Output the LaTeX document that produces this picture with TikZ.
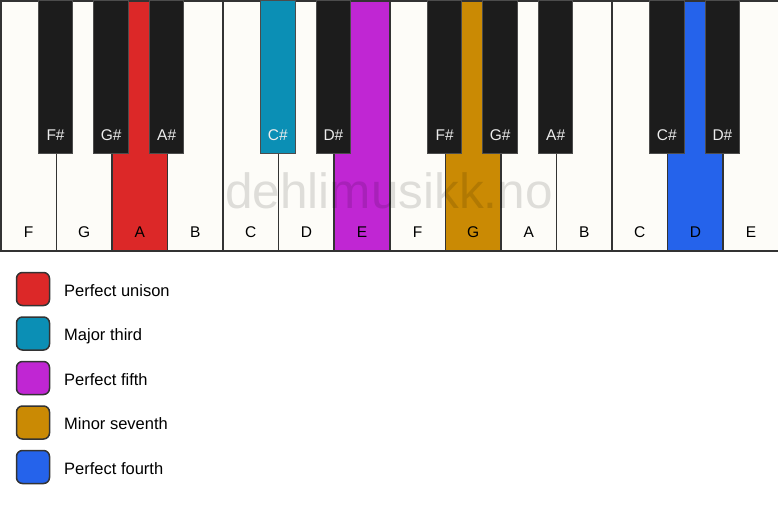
\documentclass[tikz,border=0pt]{standalone}
\usepackage{fontspec}
\setmainfont{Liberation Sans}
\usetikzlibrary{calc}
\definecolor{keyw}{HTML}{FDFCF8}
\definecolor{keyb}{HTML}{1C1C1C}
\definecolor{cred}{HTML}{DC2828}
\definecolor{cteal}{HTML}{0B8FB5}
\definecolor{cpurple}{HTML}{C026D3}
\definecolor{cgold}{HTML}{CA8A04}
\definecolor{cblue}{HTML}{2563EB}
\definecolor{edge}{HTML}{333333}
\begin{document}
\begin{tikzpicture}[x=1pt,y=-1pt,
  whitekey/.style={draw=edge,line width=1.5pt,fill=keyw,rectangle,minimum width=55.571pt,minimum height=250pt,inner sep=0pt,anchor=north west},
  blackkey/.style={draw=black!70,line width=1pt,fill=keyb,rectangle,minimum width=34.5pt,minimum height=153pt,inner sep=0pt,anchor=north},
  wlabel/.style={font=\fontsize{15.5}{15.5}\selectfont,text=black,anchor=base,inner sep=0pt},
  blabel/.style={font=\fontsize{15.5}{15.5}\selectfont,text=white!93!black,anchor=base,inner sep=0pt},
  legbox/.style={draw=edge,line width=1.5pt,rounded corners=6pt,minimum width=33pt,minimum height=33pt,inner sep=0pt},
  legtext/.style={font=\fontsize{16.5}{16.5}\selectfont,anchor=base west,inner sep=0pt}]
\useasboundingbox[fill=white] (0,0) rectangle (778,506);
\def\w{55.571}
% white keys
\foreach \i/\n/\c in {0/F/keyw,1/G/keyw,2/A/cred,3/B/keyw,4/C/keyw,5/D/keyw,6/E/cpurple,7/F/keyw,8/G/cgold,9/A/keyw,10/B/keyw,11/C/keyw,12/D/cblue,13/E/keyw}{
  \node[whitekey,fill=\c] (w\i) at (\i*\w,0) {};
  \node[wlabel] (wl\i) at ($(w\i.south)+(0,-14)$) {\n};
}
% watermark
\node[font=\fontsize{49.5}{49.5}\selectfont,text=black,text opacity=0.12,anchor=base,inner sep=0pt] (wm) at (389,208) {dehlimusikk.no};
% black keys
\foreach \i/\n/\c in {1/F\#/keyb,2/G\#/keyb,3/A\#/keyb,5/C\#/cteal,6/D\#/keyb,8/F\#/keyb,9/G\#/keyb,10/A\#/keyb,12/C\#/keyb,13/D\#/keyb}{
  \node[blackkey,fill=\c] (b\i) at (\i*\w,0) {};
  \node[blabel] (bl\i) at ($(b\i.south)+(0,-14)$) {\n};
}
% legend
\foreach \k/\c/\t in {0/cred/Perfect unison,1/cteal/Major third,2/cpurple/Perfect fifth,3/cgold/Minor seventh,4/cblue/Perfect fourth}{
  \node[legbox,fill=\c] (lb\k) at (33,289+\k*44.5) {};
  \node[legtext] (lt\k) at (64,296+\k*44.5) {\t};
}
\end{tikzpicture}
\end{document}
